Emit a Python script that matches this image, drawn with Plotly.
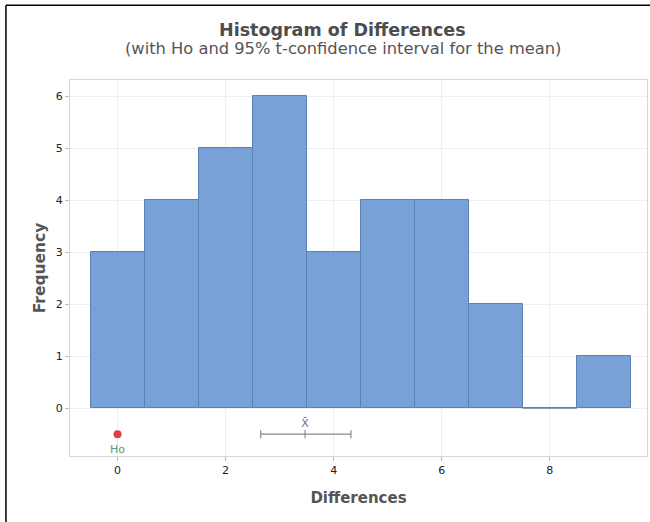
import plotly.graph_objects as go

# ---- data ----
bin_centers = [0, 1, 2, 3, 4, 5, 6, 7, 8, 9]
counts = [3, 4, 5, 6, 3, 4, 4, 2, 0, 1]
bin_width = 1.0
h0_value = 0
mean_value = 3.47
ci_lower = 2.65
ci_upper = 4.32
marker_row_y = -0.5
x_ticks = [0, 2, 4, 6, 8]
y_ticks = [0, 1, 2, 3, 4, 5, 6]

BAR_FILL = "#78A2D7"
BAR_EDGE = "#5B80B4"
FONT = "DejaVu Sans"

fig = go.Figure()

fig.add_trace(go.Bar(
    x=bin_centers, y=counts, width=bin_width,
    marker=dict(color=BAR_FILL, line=dict(color=BAR_EDGE, width=1)),
    hoverinfo="x+y", showlegend=False,
))

# zero-count bins drawn as a flat outline at 0
for c, n in zip(bin_centers, counts):
    if n == 0:
        fig.add_trace(go.Scatter(
            x=[c - bin_width / 2, c + bin_width / 2], y=[0, 0],
            mode="lines", line=dict(color=BAR_EDGE, width=1.2),
            showlegend=False, hoverinfo="skip",
        ))

# confidence interval for the mean
fig.add_trace(go.Scatter(
    x=[mean_value], y=[marker_row_y], mode="markers+text",
    marker=dict(symbol="line-ns", size=6, line=dict(color="#7f7f7f", width=1)),
    error_x=dict(type="data", symmetric=False,
                 array=[ci_upper - mean_value], arrayminus=[mean_value - ci_lower],
                 color="#8a8a8a", thickness=1.2, width=4),
    text=["X\u0304"], textposition="top center",
    textfont=dict(family=FONT, size=11, color="#7a6a8a"),
    showlegend=False,
))

# Ho marker
fig.add_trace(go.Scatter(
    x=[h0_value], y=[marker_row_y], mode="markers",
    marker=dict(symbol="circle", size=8, color="#D9434B"),
    showlegend=False,
))

fig.update_layout(
    width=650, height=522,
    margin=dict(l=70, r=3, t=80, b=66),
    paper_bgcolor="white", plot_bgcolor="white",
    font=dict(family=FONT, color="#333333"),
    bargap=0,
    annotations=[
        dict(text="Histogram of Differences", xref="paper", yref="paper",
             x=0.473, y=1, yanchor="middle", yshift=50, showarrow=False,
             font=dict(family=FONT, size=17.5, color="#4d4d4d", weight="bold")),
        dict(text="(with Ho and 95% t-confidence interval for the mean)",
             xref="paper", yref="paper", x=0.473, y=1, yanchor="middle", yshift=32,
             showarrow=False,
             font=dict(family=FONT, size=16.3, color="#555555")),
        dict(text="Ho", x=h0_value, y=marker_row_y, xref="x", yref="y",
             yshift=-15, showarrow=False,
             font=dict(family=FONT, size=11, color="#5E9A6A")),
    ],
    shapes=[
        dict(type="line", xref="paper", yref="paper", x0=-0.111, x1=-0.111, y0=-0.3, y1=1.199,
             line=dict(color="black", width=1.5)),
        dict(type="line", xref="paper", yref="paper", x0=-0.111, x1=1.1, y0=1.199, y1=1.199,
             line=dict(color="black", width=1.5)),
    ],
)

fig.update_xaxes(
    range=[-0.88, 9.8], tickvals=x_ticks,
    showgrid=True, gridcolor="#eeeeee", gridwidth=1,
    showline=True, linecolor="#d8d8d8", mirror=True,
    ticks="outside", ticklen=4, tickcolor="#bbbbbb",
    tickfont=dict(family=FONT, size=11, color="#222222"),
    title=dict(text="Differences", standoff=16,
               font=dict(family=FONT, size=15, color="#555555", weight="bold")),
    zeroline=False,
)
fig.update_yaxes(
    range=[-0.92, 6.31], tickvals=y_ticks,
    showgrid=True, gridcolor="#eeeeee", gridwidth=1,
    showline=True, linecolor="#d8d8d8", mirror=True,
    ticks="outside", ticklen=4, tickcolor="#bbbbbb",
    tickfont=dict(family=FONT, size=11, color="#222222"),
    title=dict(text="Frequency", standoff=6,
               font=dict(family=FONT, size=15.5, color="#555555", weight="bold")),
    zeroline=False,
)

fig.write_html(
    "out.html",
    config={"displayModeBar": False},
    post_script="document.body.style.margin='0';document.body.style.overflow='hidden';",
)
